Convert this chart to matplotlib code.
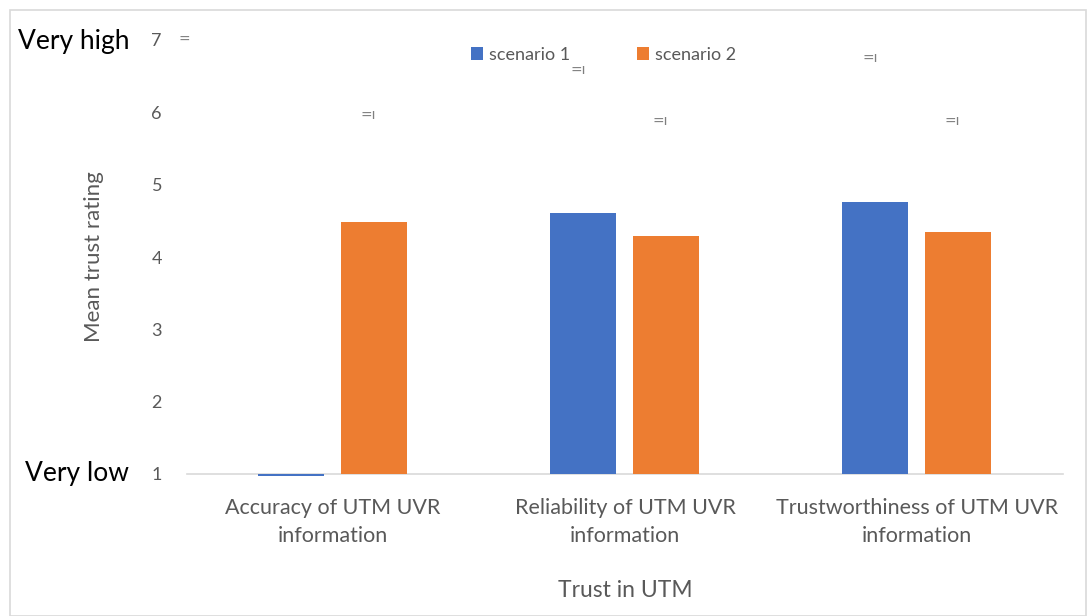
import matplotlib.pyplot as plt
import numpy as np
from matplotlib.patches import Rectangle

plt.rcParams['font.family'] = ['Lato', 'DejaVu Sans']

categories = ["Accuracy of UTM UVR\ninformation",
              "Reliability of UTM UVR\ninformation",
              "Trustworthiness of UTM UVR\ninformation"]
scenario1 = [0.97, 4.61, 4.76]
scenario2 = [4.48, 4.29, 4.35]
series_names = ["scenario 1", "scenario 2"]
yticks = [1, 2, 3, 4, 5, 6, 7]

# stray marker glyphs left over in the original (x, y, text)
marks = [(-0.51, 7.0, "="), (0.12, 5.96, "=ı"), (0.84, 6.58, "=ı"),
         (1.12, 5.88, "=ı"), (1.84, 6.75, "=ı"), (2.12, 5.88, "=ı")]

blue = "#4472C4"
orange = "#ED7D31"
gray = "#595959"

fig = plt.figure(figsize=(10.88, 6.16), dpi=100)
ax = fig.add_axes([187/1088, 1-474/616, 876/1088, (474-40)/616])

x = np.arange(len(categories))
w = 0.226
base = 1
ax.bar(x - 0.143, np.array(scenario1) - base, w, bottom=base, color=blue,
       label=series_names[0], zorder=4, clip_on=False)
ax.bar(x + 0.141, np.array(scenario2) - base, w, bottom=base, color=orange,
       label=series_names[1], zorder=4, clip_on=False)

ax.set_xlim(-0.5, 2.5)
ax.set_ylim(1, 7)
ax.set_yticks(yticks)
ax.set_yticklabels([str(v) for v in yticks], color=gray, fontsize=13)
ax.set_xticks(x)
ax.set_xticklabels(categories, color=gray, fontsize=15.5, linespacing=1.55)
ax.tick_params(axis='both', length=0)
ax.tick_params(axis='y', pad=18)
ax.tick_params(axis='x', pad=17)

for s in ['top', 'right', 'left']:
    ax.spines[s].set_visible(False)
ax.spines['bottom'].set_color("#D9D9D9")
ax.spines['bottom'].set_linewidth(1.2)
ax.spines['bottom'].set_zorder(2)

ax.set_ylabel("Mean trust rating", color=gray, fontsize=16)
ax.yaxis.set_label_coords(-0.095, 0.5)
ax.set_xlabel("Trust in UTM", color=gray, fontsize=16.5, labelpad=24)

for mx, my, mt in marks:
    ax.text(mx, my, mt, color="#7F7F7F", fontsize=10, family='DejaVu Sans',
            ha='center', va='center', clip_on=False, zorder=5)

fig.text(18/1088, 1-42/616, "Very high", fontsize=19, color="black", va='center', ha='left')
fig.text(25/1088, 1-474/616, "Very low", fontsize=19, color="black", va='center', ha='left')

ax.legend(loc='upper center', bbox_to_anchor=(0.475, 1.022), ncol=2, frameon=False,
          fontsize=13, labelcolor=gray, handlelength=0.7, handleheight=0.7,
          handletextpad=0.3, columnspacing=3.7)

fig.patches.append(Rectangle((10/1088, 0), 1 - 12/1088, 1 - 10/616, transform=fig.transFigure,
                             fill=False, edgecolor="#D9D9D9", linewidth=1.2))

fig.savefig("out.png", dpi=100)
